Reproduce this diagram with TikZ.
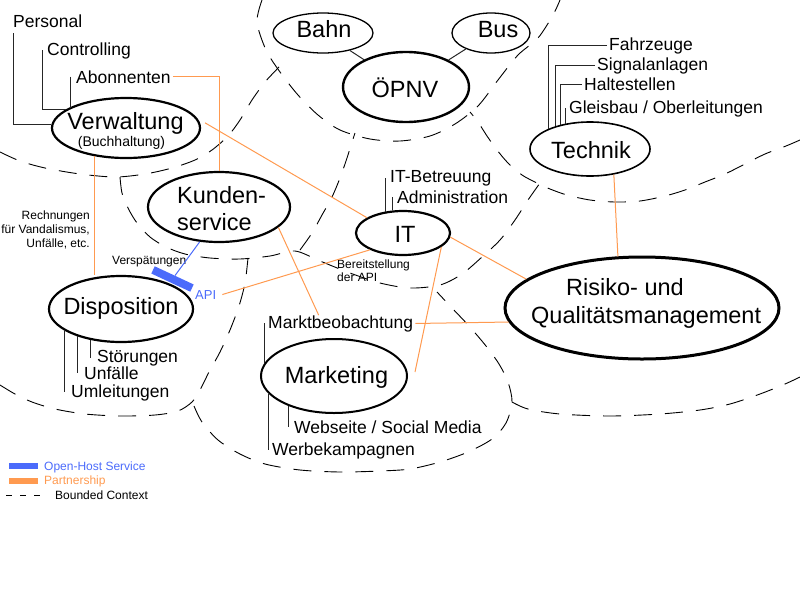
\documentclass[tikz,border=0pt]{standalone}
\usepackage{fontspec}
\setmainfont{Liberation Sans}
\usetikzlibrary{shapes.geometric}
\definecolor{ohs}{HTML}{4B6BFB}
\definecolor{ptn}{HTML}{FF9A50}
\tikzset{
 ctx/.style={line width=0.9pt, dash pattern=on 18pt off 13pt},
 ell/.style={ellipse, draw, fill=white, inner sep=0pt, line width=2.2pt},
 ellthin/.style={ellipse, draw, fill=white, inner sep=0pt, line width=1.4pt},
 bigt/.style={inner sep=0pt, font=\fontsize{23.5pt}{28pt}\selectfont},
 midt/.style={inner xsep=2pt, inner ysep=0pt, anchor=base west, font=\fontsize{17.5pt}{21pt}\selectfont},
 smallt/.style={inner xsep=2pt, inner ysep=0pt, font=\fontsize{12pt}{14pt}\selectfont},
 tree/.style={draw=black!85, line width=1pt},
 partner/.style={draw=ptn, line width=1pt},
 ohsline/.style={draw=ohs, line width=1pt},
}
\begin{document}
\begin{tikzpicture}[x=1pt,y=-1pt]
\useasboundingbox (0,0) rectangle (800,600);
% bounded contexts
\draw[ctx] plot[smooth] coordinates {(262,0) (257,22) (266,50) (280,72) (298,95) (318,115) (340,130) (370,139) (400,141) (430,136) (455,124) (478,106) (498,80) (518,55) (538,38) (553,15) (560,0)};
\draw[ctx] plot[smooth] coordinates {(0,152) (20,161) (45,168) (80,174) (115,177) (145,174) (172,168) (195,160) (212,150) (228,136) (240,120) (252,100) (265,82) (278,68) (286,58)};
\draw[ctx] plot[smooth] coordinates {(120,177) (122,193) (128,208) (137,223) (150,237) (166,247) (185,254) (210,258) (240,259) (270,256) (295,251) (320,261) (350,273) (380,283) (410,288) (440,285) (462,274) (482,257) (500,240) (515,220) (528,200) (540,183)};
\draw[ctx] plot[smooth] coordinates {(300,250) (312,233) (322,215) (332,197) (340,178) (347,158) (352,142) (355,133)};
\draw[ctx] plot[smooth] coordinates {(800,140) (786,146) (765,154) (745,164) (725,174) (705,182) (685,190) (665,196) (640,201) (615,202) (590,200) (567,195) (550,189) (537,183) (522,175) (508,163) (497,150) (487,136) (478,122) (470,112)};
\draw[ctx] plot[smooth] coordinates {(0,385) (15,394) (32,402) (55,409) (85,414) (120,416) (155,415) (178,411) (192,402) (200,390) (209,372) (220,352) (230,330) (239,306) (245,283) (248,258)};
\draw[ctx] plot[smooth] coordinates {(194,406) (202,422) (218,440) (240,454) (265,464) (300,470) (340,472) (380,471) (410,469) (440,462) (468,452) (492,439) (506,423) (512,402) (508,382) (499,364) (486,346) (469,326) (452,308) (437,292)};
\draw[ctx] plot[smooth] coordinates {(512,402) (528,409) (560,414) (610,416) (660,414) (700,410) (730,404) (760,394) (785,384) (800,377)};
% ellipses
\node[ell, minimum width=148pt, minimum height=60pt] (verw) at (126,128) {};
\node[ellthin, line width=1.3pt, minimum width=100pt, minimum height=40pt] (bahn) at (323,33) {};
\node[ellthin, line width=1.3pt, minimum width=78pt, minimum height=40pt] (bus) at (491,33) {};
\node[ell, line width=2.4pt, minimum width=126pt, minimum height=70pt] (oepnv) at (406,87) {};
\node[ellthin, line width=1.6pt, minimum width=120pt, minimum height=54pt] (tech) at (590,149) {};
\node[ell, minimum width=142pt, minimum height=70pt] (kund) at (219,207) {};
\node[ell, minimum width=94pt, minimum height=44pt] (it) at (403,233) {};
\node[ell, minimum width=144pt, minimum height=66pt] (disp) at (121,309) {};
\node[ell, line width=2pt, minimum width=146pt, minimum height=74pt] (mark) at (334,376) {};
\node[ell, line width=3pt, minimum width=274pt, minimum height=102pt] (risk) at (642,308) {};
\node[rectangle, fill=ohs, minimum width=43pt, minimum height=8pt, inner sep=0pt, rotate=-25] (ohsbar) at (172.5,279) {};
% big labels
\node[bigt, anchor=base] (verw-t) at (125.5,129.5) {Verwaltung};
\node[inner sep=0pt, anchor=base, font=\fontsize{14pt}{16pt}\selectfont] (buch-t) at (121.5,146) {(Buchhaltung)};
\node[bigt, anchor=base] (bahn-t) at (324,37.5) {Bahn};
\node[bigt, anchor=base] (bus-t) at (498,37.5) {Bus};
\node[bigt, anchor=base] (oepnv-t) at (405,97) {ÖPNV};
\node[bigt, anchor=base] (tech-t) at (591,158) {Technik};
\node[bigt, anchor=base west] (kund-t1) at (177,203.5) {Kunden-};
\node[bigt, anchor=base west] (kund-t2) at (177,230) {service};
\node[bigt, anchor=base] (it-t) at (405,242) {IT};
\node[bigt, anchor=base] (disp-t) at (121,314) {Disposition};
\node[bigt, anchor=base] (mark-t) at (336.5,383.5) {Marketing};
\node[bigt, anchor=base west] (risk-t1) at (566,295) {Risiko- und};
\node[bigt, anchor=base west] (risk-t2) at (531,323.5) {Qualitätsmanagement};
% medium labels
\node[midt] (pers-t) at (11,27) {Personal};
\node[midt] (ctrl-t) at (45,55) {Controlling};
\node[midt] (abon-t) at (74,83) {Abonnenten};
\node[midt] (stoe-t) at (95,362) {Störungen};
\node[midt] (unf-t) at (82,379) {Unfälle};
\node[midt] (umle-t) at (69,397) {Umleitungen};
\node[midt] (fahr-t) at (607,50) {Fahrzeuge};
\node[midt] (sign-t) at (595,70) {Signalanlagen};
\node[midt] (halt-t) at (582,90.5) {Haltestellen};
\node[midt] (glei-t) at (567,113) {Gleisbau / Oberleitungen};
\node[midt] (itb-t) at (388,182) {IT-Betreuung};
\node[midt] (adm-t) at (395,203) {Administration};
\node[midt] (mkt-t) at (266,328) {Marktbeobachtung};
\node[midt] (web-t) at (292,433) {Webseite / Social Media};
\node[midt] (werb-t) at (270,455) {Werbekampagnen};
% small labels
\node[smallt, anchor=base east] (rech1-t) at (92,219) {Rechnungen};
\node[smallt, anchor=base east] (rech2-t) at (92,233) {für Vandalismus,};
\node[smallt, anchor=base east] (rech3-t) at (92,247) {Unfälle, etc.};
\node[smallt, anchor=base west] (versp-t) at (110,264) {Verspätungen};
\node[smallt, anchor=base west] (ber1-t) at (335,268) {Bereitstellung};
\node[smallt, anchor=base west] (ber2-t) at (335,281) {der API};
\node[inner xsep=2pt, inner ysep=0pt, anchor=base west, text=ohs, font=\fontsize{13pt}{15pt}\selectfont] (api-t) at (193,299) {API};
% tree lines
\draw[tree] ([shift={(2,6)}]pers-t.south west) |- (verw.177);
\draw[tree] ([xshift=-3pt]ctrl-t.west) |- (verw.163);
\draw[tree] ([xshift=-4pt]abon-t.west) -- ([xshift=-4pt]abon-t.west |- verw.161);
\draw[tree] (disp.226) -- (disp.226 |- stoe-t.west);
\draw[tree] (disp.212) -- (disp.212 |- unf-t.west);
\draw[tree] (disp.201) -- (disp.201 |- umle-t.west);
\draw[tree] (fahr-t.west) -| (tech.154);
\draw[tree] (sign-t.west) -| (tech.146);
\draw[tree] (halt-t.west) -| (tech.141);
\draw[tree] (tech.134) -- (tech.134 |- glei-t.west);
\draw[tree] (it.130) -- (it.130 |- itb-t.west);
\draw[tree] (it.115) -- (it.115 |- adm-t.west);
\draw[tree] (mark.169) -- (mark.169 |- mkt-t.west);
\draw[tree] (mark.195) -- (mark.195 |- werb-t.west);
\draw[tree] (mark.213) -- (mark.213 |- web-t.west);
\draw[tree] (bahn) -- (oepnv);
\draw[tree] (bus) -- (oepnv);
% partnerships
\draw[partner] (abon-t.east) -| (kund.north);
\draw[partner] ([xshift=5pt]verw.4) -- (it.157);
\draw[partner] (verw.222) -- (verw.222 |- disp.north);
\draw[partner] (kund.-19) -- ([xshift=-22pt]mkt-t.north);
\draw[partner] (it.-20) -- ([shift={(7,-4)}]mark.east);
\draw[partner] (it.-5) -- (risk.166);
\draw[partner] (mkt-t.east) -- (risk.186);
\draw[partner] (tech.-47) -- (risk.115);
\draw[partner] ([xshift=4pt]api-t.east) -- (it.207);
% open host service
\draw[ohsline] (kund.241) -- (ohsbar);
% legend
\draw[ohs, line width=6pt] (9,466) -- (38,466);
\draw[ptn, line width=6pt] (9,481) -- (38,481);
\draw[line width=1pt, dash pattern=on 6pt off 8pt] (6,495) -- (46,495);
\node[smallt, anchor=base west, text=ohs] (lg1-t) at (42,470) {Open-Host Service};
\node[smallt, anchor=base west, text=ptn] (lg2-t) at (42,484) {Partnership};
\node[smallt, anchor=base west] (lg3-t) at (53,499) {Bounded Context};
\end{tikzpicture}
\end{document}
